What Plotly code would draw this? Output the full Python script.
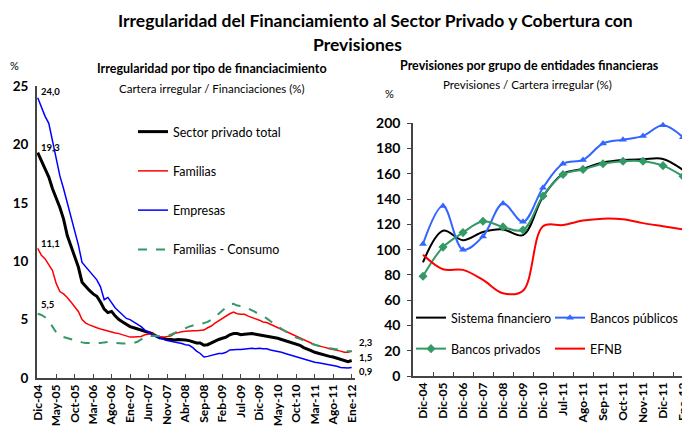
import plotly.graph_objects as go

# ---------------- panel izquierdo: irregularidad por tipo (mensual, dic-04 a ene-12)
meses = list(range(86))
etiquetas_izq = ["Dic-04", "May-05", "Oct-05", "Mar-06", "Ago-06", "Ene-07", "Jun-07",
                 "Nov-07", "Abr-08", "Sep-08", "Feb-09", "Jul-09", "Dic-09", "May-10",
                 "Oct-10", "Mar-11", "Ago-11", "Ene-12"]

sector_privado = [19.3, 18.6, 18.0, 17.2, 16.2, 15.4, 14.6, 13.6, 12.2, 11.3,
                  10.3, 9.5, 8.2, 7.8, 7.5, 7.2, 7.0, 6.5, 5.9, 5.6,
                  5.7, 5.3, 5.0, 4.8, 4.6, 4.4, 4.3, 4.2, 4.1, 4.05,
                  3.95, 3.8, 3.6, 3.45, 3.4, 3.3, 3.3, 3.25, 3.3, 3.3,
                  3.25, 3.2, 3.1, 3.0, 3.0, 2.8, 2.85, 3.0, 3.2, 3.3,
                  3.4, 3.5, 3.7, 3.8, 3.8, 3.7, 3.75, 3.8, 3.8, 3.75,
                  3.7, 3.6, 3.55, 3.5, 3.5, 3.4, 3.3, 3.2, 3.1, 3.0,
                  2.9, 2.8, 2.6, 2.5, 2.35, 2.2, 2.1, 2.0, 1.9, 1.85,
                  1.8, 1.7, 1.6, 1.45, 1.4, 1.5]
familias = [11.1, 10.5, 10.2, 9.7, 9.2, 8.1, 7.4, 7.2, 6.9, 6.5,
            6.1, 5.7, 5.0, 4.7, 4.55, 4.4, 4.3, 4.2, 4.1, 4.0,
            3.95, 3.85, 3.8, 3.7, 3.6, 3.5, 3.5, 3.5, 3.55, 3.7,
            3.75, 3.8, 3.6, 3.5, 3.5, 3.55, 3.6, 3.8, 3.9, 3.95,
            4.0, 4.05, 4.05, 4.05, 4.05, 4.1, 4.3, 4.45, 4.7, 4.9,
            5.1, 5.35, 5.5, 5.65, 5.5, 5.45, 5.45, 5.3, 5.2, 5.1,
            4.95, 4.8, 4.75, 4.6, 4.45, 4.35, 4.2, 4.05, 3.85, 3.75,
            3.55, 3.4, 3.25, 3.1, 3.0, 2.85, 2.75, 2.7, 2.6, 2.5,
            2.45, 2.4, 2.3, 2.2, 2.2, 2.3]
empresas = [24.0, 23.2, 22.4, 21.8, 20.2, 18.7, 17.3, 16.2, 15.0, 13.8,
            12.4, 11.4, 9.9, 9.5, 9.1, 8.7, 8.4, 7.8, 6.7, 6.9,
            6.4, 6.0, 5.7, 5.4, 5.1, 5.0, 4.8, 4.6, 4.4, 4.1,
            3.9, 3.7, 3.55, 3.45, 3.3, 3.2, 3.15, 3.1, 3.0, 2.95,
            2.85, 2.8, 2.6, 2.3, 2.1, 1.8, 1.85, 1.95, 2.05, 2.1,
            2.1, 2.2, 2.4, 2.45, 2.45, 2.45, 2.5, 2.55, 2.55, 2.5,
            2.55, 2.5, 2.5, 2.4, 2.35, 2.3, 2.2, 2.1, 2.0, 1.9,
            1.8, 1.7, 1.6, 1.5, 1.4, 1.35, 1.3, 1.25, 1.2, 1.1,
            1.05, 1.0, 0.9, 0.85, 0.85, 0.9]
consumo = [5.5, 5.4, 5.2, 4.9, 4.4, 3.9, 3.6, 3.5, 3.4, 3.3,
           3.2, 3.1, 3.05, 3.0, 3.0, 2.95, 2.95, 3.0, 3.05, 3.05,
           3.1, 3.0, 2.95, 2.95, 2.95, 2.95, 3.0, 3.1, 3.3, 3.5,
           3.6, 3.6, 3.6, 3.55, 3.55, 3.6, 3.7, 3.85, 4.0, 4.15,
           4.3, 4.4, 4.5, 4.55, 4.6, 4.7, 4.8, 5.0, 5.2, 5.5,
           5.8, 6.05, 6.3, 6.35, 6.2, 6.15, 6.1, 5.95, 5.8, 5.65,
           5.5, 5.3, 5.1, 4.85, 4.6, 4.4, 4.2, 4.0, 3.8, 3.6,
           3.45, 3.35, 3.2, 3.05, 2.95, 2.85, 2.75, 2.65, 2.6, 2.55,
           2.5, 2.45, 2.35, 2.3, 2.3, 2.3]

# ---------------- panel derecho: previsiones / cartera irregular
categorias_der = ["Dic-04", "Dic-05", "Dic-06", "Dic-07", "Dic-08", "Dic-09", "Dic-10",
                  "Jul-11", "Ago-11", "Sep-11", "Oct-11", "Nov-11", "Dic-11", "Ene-12"]
sistema = [90, 115, 107.5, 114, 116, 111.5, 142, 160, 164, 169, 171, 171.5, 171.8, 163]
publicos = [104.5, 134.5, 100, 110.5, 136.5, 122, 149, 168, 171, 184, 187, 190, 198.5, 189]
privados = [79, 102, 113.5, 122.5, 118, 115.5, 142.5, 159.5, 163.5, 168, 170, 170, 166.5, 158]
efnb = [96, 84.5, 84, 76, 65.5, 67.5, 118.5, 119.5, 123, 124.5, 124, 121, 118.5, 116]

W, H = 690, 429
OFF = 8  # margen por defecto del <body> de la pagina
FONT = "Lato"


def px(x):
    return (x - OFF) / W


def py(y):
    return 1 - (y - OFF) / H


def coma(v):
    return f"{v:.1f}".replace(".", ",")


fig = go.Figure()

# izquierda
izq = [
    ("Sector privado total", sector_privado, "#000000", 3, "solid"),
    ("Familias", familias, "#ff0000", 1.5, "solid"),
    ("Empresas", empresas, "#0000ff", 1.5, "solid"),
    ("Familias - Consumo", consumo, "#339966", 2, "dash"),
]
for i, (nombre, serie, color, ancho, estilo) in enumerate(izq):
    fig.add_trace(go.Scatter(
        x=meses, y=serie, name=nombre, mode="lines",
        line=dict(color=color, width=ancho, dash=estilo),
        legend="legend", legendgroup=f"izq{i}",
        xaxis="x", yaxis="y", hoverinfo="skip",
    ))

# derecha
der = [
    ("Sistema financiero", sistema, "#000000", None, "legend2"),
    ("Bancos públicos", publicos, "#3366ff", "triangle-up", "legend2"),
    ("Bancos privados", privados, "#339966", "diamond", "legend3"),
    ("EFNB", efnb, "#ff0000", None, "legend3"),
]
for nombre, serie, color, simbolo, ley in der:
    fig.add_trace(go.Scatter(
        x=categorias_der, y=serie, name=nombre,
        mode="lines+markers" if simbolo else "lines",
        line=dict(color=color, width=2, shape="spline", smoothing=1),
        marker=dict(symbol=simbolo or "circle", size=7, color=color),
        legend=ley, xaxis="x2", yaxis="y2", hoverinfo="skip", cliponaxis=False,
    ))

ejes = dict(showgrid=False, zeroline=False, showline=True, linecolor="#444444",
            linewidth=1.5, automargin=False)

anotaciones = [
    dict(x=px(375), y=py(20), text="<b>Irregularidad del Financiamiento al Sector Privado y Cobertura con</b>",
         font=dict(size=17.5)),
    dict(x=px(357), y=py(45), text="<b>Previsiones</b>", font=dict(size=17.5)),
    dict(x=px(212), y=py(68), text="<b>Irregularidad por tipo de financiacimiento</b>", font=dict(size=12.5)),
    dict(x=px(212), y=py(88), text="Cartera irregular / Financiaciones (%)", font=dict(size=11.5)),
    dict(x=px(529), y=py(65), text="<b>Previsiones por grupo de entidades financieras</b>", font=dict(size=12.5)),
    dict(x=px(527), y=py(84), text="Previsiones / Cartera irregular (%)", font=dict(size=11.5)),
    dict(x=px(15), y=py(65), text="%", font=dict(size=11)),
    dict(x=px(389), y=py(93), text="%", font=dict(size=11)),
]
for a in anotaciones:
    a.update(xref="paper", yref="paper", showarrow=False, xanchor="center", yanchor="middle")
    a["font"].update(family=FONT, color="#000000")

# etiquetas de inicio y fin (izquierda)
inicio = [(empresas[0], 6), (sector_privado[0], 5), (familias[0], 5), (consumo[0], 9)]
for v, dy in inicio:
    anotaciones.append(dict(x=meses[0], y=v, xref="x", yref="y", text=f"<b>{coma(v)}</b>",
                            showarrow=False, xanchor="left", yanchor="middle", xshift=1, yshift=dy,
                            font=dict(family=FONT, size=9.5, color="#000000")))
fin = [(familias[-1], 9), (sector_privado[-1], 3), (empresas[-1], -4)]
for v, dy in fin:
    anotaciones.append(dict(x=meses[-1], y=v, xref="x", yref="y", text=f"<b>{coma(v)}</b>",
                            showarrow=False, xanchor="left", yanchor="middle", xshift=5, yshift=dy,
                            font=dict(family=FONT, size=9.5, color="#000000")))

fig.update_layout(
    width=W, height=H,
    margin=dict(l=0, r=0, t=0, b=0, autoexpand=False),
    paper_bgcolor="white", plot_bgcolor="white",
    font=dict(family=FONT, color="#000000"),
    xaxis=dict(domain=[px(36.8), px(355)], range=[-0.25, 85.9], anchor="y",
               tickmode="array", tickvals=meses[::5], ticktext=[f"<b>{t}</b>" for t in etiquetas_izq],
               tickangle=-90, ticks="inside", ticklen=4, tickcolor="#444444",
               tickfont=dict(family=FONT, size=12, color="#000000"), **ejes),
    yaxis=dict(domain=[py(378), py(86)], range=[0, 25], anchor="x", tickvals=[0, 5, 10, 15, 20, 25],
               ticktext=["<b>0</b>", "<b>5</b>", "<b>10</b>", "<b>15</b>", "<b>20</b>", "<b>25</b>"],
               ticks="", ticklabelstandoff=4,
               tickfont=dict(family=FONT, size=13.5, color="#000000"), **ejes),
    xaxis2=dict(domain=[px(413), 1], range=[-0.5, 13.75], type="category", anchor="y2",
                tickvals=categorias_der, ticktext=[f"<b>{t}</b>" for t in categorias_der],
                tickangle=-90, ticks="inside", ticklen=4, tickson="boundaries",
                tickcolor="#444444", tickfont=dict(family=FONT, size=12, color="#000000"), **ejes),
    yaxis2=dict(domain=[py(376), py(123.3)], range=[0, 200], anchor="x2", dtick=20,
                tickformat="d", ticks="outside", ticklen=4, tickcolor="#444444",
                ticklabelstandoff=4, tickprefix="<b>", ticksuffix="</b>",
                tickfont=dict(family=FONT, size=14, color="#000000"), **ejes),
    legend=dict(x=px(133), y=py(117), xanchor="left", yanchor="top",
                font=dict(family=FONT, size=12.5), itemwidth=30, traceorder="grouped",
                tracegroupgap=20, bgcolor="rgba(0,0,0,0)"),
    legend2=dict(x=px(411), y=py(303), xanchor="left", yanchor="top", orientation="h",
                 font=dict(family=FONT, size=12.5), itemwidth=30, entrywidth=94,
                 bgcolor="rgba(0,0,0,0)"),
    legend3=dict(x=px(411), y=py(334), xanchor="left", yanchor="top", orientation="h",
                 font=dict(family=FONT, size=12.5), itemwidth=30, entrywidth=94,
                 bgcolor="rgba(0,0,0,0)"),
    annotations=anotaciones,
    showlegend=True,
)

fig.write_html("out.html")
